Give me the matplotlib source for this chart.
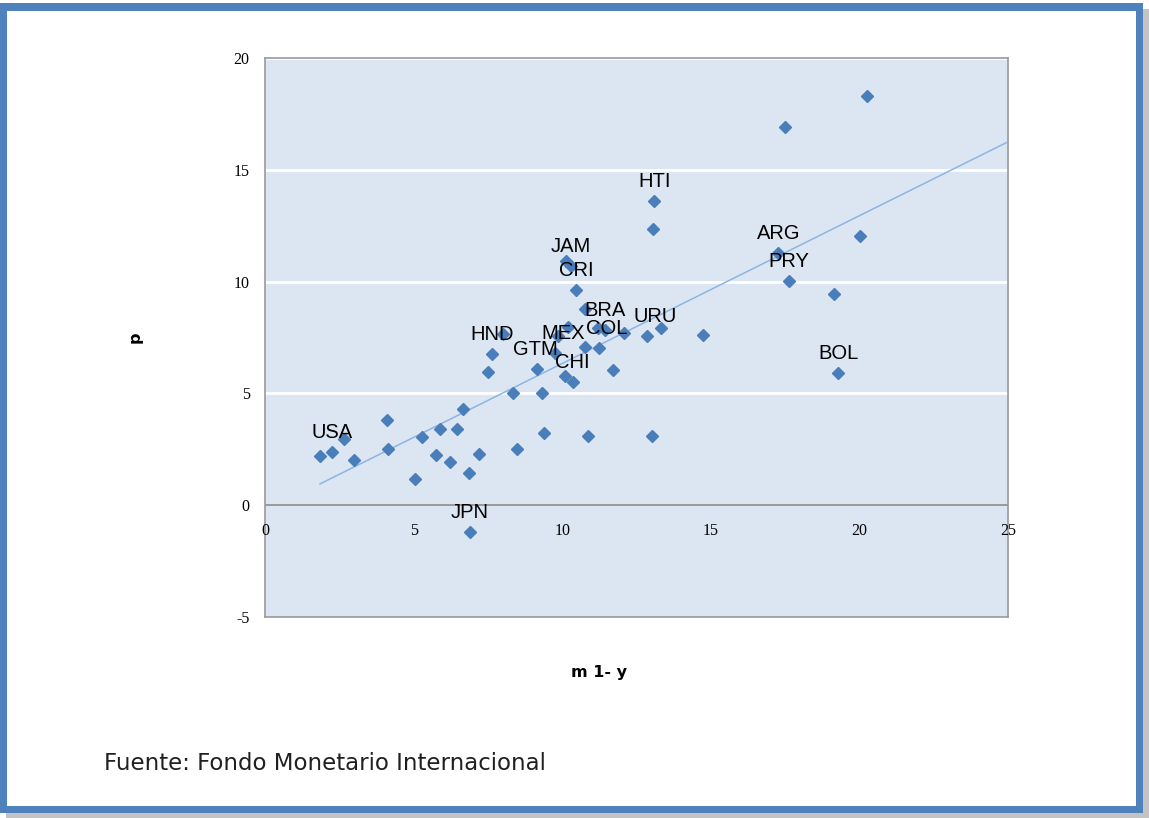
import numpy as np
import matplotlib
matplotlib.use("Agg")
import matplotlib.pyplot as plt
import matplotlib.transforms as mtrans
from matplotlib.patches import Rectangle

# ---- data (m1 - y vs p) ----
m1_y = [1.85, 2.27, 2.67, 2.99, 4.12, 4.13, 5.05, 5.27, 5.75, 5.89,
        6.22, 6.45, 6.67, 6.85, 6.90, 7.20, 7.51, 7.63, 8.02, 8.34,
        8.48, 9.14, 9.32, 9.39, 9.76, 9.87, 10.09, 10.21, 10.12, 10.29,
        10.35, 10.46, 10.77, 10.77, 10.87, 11.21, 11.44, 11.25, 11.72, 12.07,
        12.86, 13.05, 13.10, 13.02, 13.32, 14.75, 17.27, 17.51, 17.64, 19.14,
        19.28, 20.03, 20.26]
p = [2.19, 2.38, 2.94, 2.01, 3.80, 2.52, 1.15, 3.06, 2.24, 3.39,
     1.92, 3.39, 4.31, 1.42, -1.22, 2.28, 5.96, 6.74, 7.65, 5.00,
     2.51, 6.07, 5.00, 3.22, 6.79, 7.56, 5.80, 7.98, 10.93, 10.69,
     5.53, 9.62, 8.79, 7.07, 3.09, 7.91, 7.83, 7.01, 6.04, 7.68,
     7.56, 12.35, 13.62, 3.09, 7.91, 7.59, 11.29, 16.90, 10.02, 9.43,
     5.92, 12.05, 18.31]
labels = ["", "USA", "", "", "", "", "", "", "", "",
          "", "", "", "", "JPN", "", "", "HND", "", "",
          "", "GTM", "", "", "MEX", "", "", "", "", "JAM",
          "CHI", "CRI", "", "", "", "", "BRA", "COL", "", "",
          "URU", "", "HTI", "", "", "", "ARG", "", "PRY", "",
          "BOL", "", ""]
label_dx = {"MEX": 8, "COL": 7, "URU": 8, "GTM": -1}

x_ticks = [0, 5, 10, 15, 20, 25]
y_ticks = [-5, 0, 5, 10, 15, 20]

W, H = 1149, 818
fig = plt.figure(figsize=(W / 100, H / 100), dpi=100)
fig.patch.set_facecolor("white")

def frect(x0, y0, x1, y1, **kw):
    # pixel rect with top-left origin
    r = Rectangle((x0 / W, 1 - y1 / H), (x1 - x0) / W, (y1 - y0) / H,
                  transform=fig.transFigure, figure=fig, **kw)
    fig.patches.append(r)

frect(6, 9, 1149, 818, facecolor="#C3C3C3", edgecolor="none", zorder=0)
frect(0, 3, 1143, 813, facecolor="#4F81BD", edgecolor="none", zorder=1)
frect(7, 11, 1136, 806, facecolor="white", edgecolor="none", zorder=2)

ax = fig.add_axes([265 / W, 1 - 617 / H, (1008 - 265) / W, (617 - 58) / H])
ax.set_zorder(10)
ax.set_facecolor("#DCE6F2")
ax.set_xlim(0, 25)
ax.set_ylim(-5, 20)

for yv in [5, 10, 15, 20]:
    ax.axhline(yv, color="white", lw=2, zorder=1)
ax.axhline(0, color="#8C8C8C", lw=1.2, zorder=2)

for s in ax.spines.values():
    s.set_color("#9A9A9A")
    s.set_linewidth(1.2)

# trend line (least squares fit of the data)
slope, intercept = np.polyfit(m1_y, p, 1)
xs = np.array([min(m1_y), 25])
ax.plot(xs, slope * xs + intercept, color="#8DB4E3", lw=1.1, zorder=3)

ax.plot(m1_y, p, linestyle="none", marker="D", markersize=6.5,
        color="#4A7EBB", markeredgecolor="#4A7EBB", zorder=4)

for xv, yv, lab in zip(m1_y, p, labels):
    if lab:
        ax.annotate(lab, (xv, yv), xytext=(label_dx.get(lab, 0), 14),
                    textcoords="offset pixels", ha="center", va="baseline",
                    fontsize=14.5, family="Liberation Sans", color="black",
                    zorder=5)

ax.set_xticks(x_ticks)
ax.set_yticks(y_ticks)
ax.set_yticklabels([str(v) for v in y_ticks])
ax.set_xticklabels([])
ax.tick_params(axis="both", length=0, labelsize=11.5)
ax.tick_params(axis="y", pad=11)
for t in ax.get_yticklabels():
    t.set_family("Liberation Serif")

# x tick labels sit just under the y = 0 line
xoff = ax.transData + mtrans.ScaledTranslation(0, -18 / 100, fig.dpi_scale_trans)
for v in x_ticks:
    ax.text(v, 0, str(v), transform=xoff, ha="center", va="top",
            fontsize=11.5, family="Liberation Serif", color="black",
            clip_on=False, zorder=6)

fig.text(135 / W, 1 - 337 / H, "p", rotation=90, ha="center", va="center",
         fontsize=11.5, fontweight="bold", family="DejaVu Sans", zorder=20)
fig.text(599 / W, 1 - 672 / H, "m 1- y", ha="center", va="center",
         fontsize=11.5, fontweight="bold", family="DejaVu Sans", zorder=20)
fig.text(104 / W, 1 - 764 / H, "Fuente: Fondo Monetario Internacional",
         ha="left", va="center", fontsize=16.5, family="DejaVu Sans",
         color="#202020", zorder=20)

fig.savefig("out.png", dpi=100)
